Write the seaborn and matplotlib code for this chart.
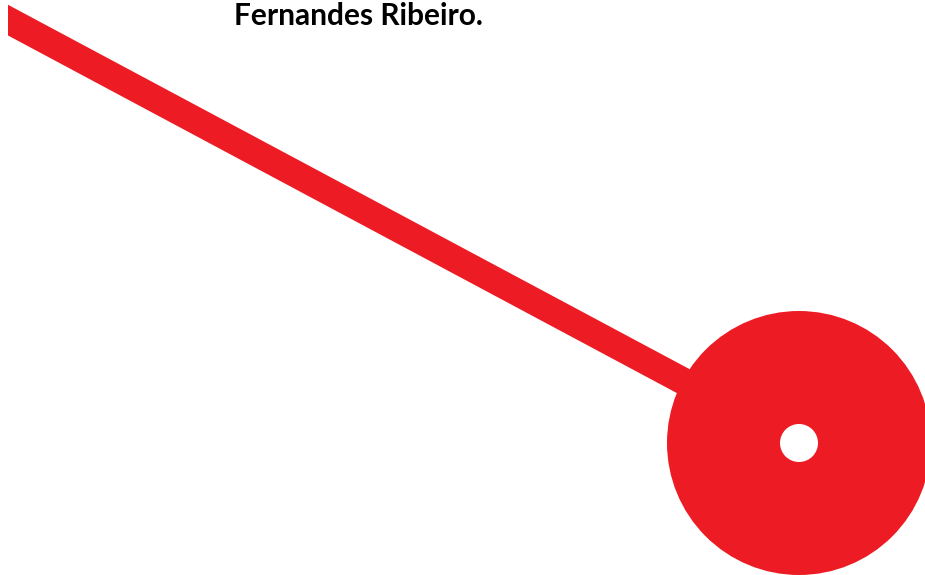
import matplotlib
matplotlib.use("Agg")
import matplotlib.pyplot as plt
import seaborn as sns
import pandas as pd
from matplotlib.patches import Circle, Rectangle

sns.set_theme(style="white")
plt.rcParams['font.family'] = ['Lato', 'DejaVu Sans']

# Data (pixel-like coordinate space of the picture)
needle_x = [-10, 799]
needle_y = [10.5, 443]
hub_center = (799, 443)
hub_radius = 132
hole_radius = 19
title_text = "Fernandes Ribeiro."
red = "#ED1C24"

fig = plt.figure(figsize=(9.25, 5.75), dpi=100)
ax = fig.add_axes([0, 0, 1, 1])
ax.set_xlim(0, 925)
ax.set_ylim(575, 0)
ax.set_aspect("equal")
ax.axis("off")

df = pd.DataFrame({"x": needle_x, "y": needle_y})
sns.lineplot(data=df, x="x", y="y", ax=ax, color=red, linewidth=19.5,
             sort=False, estimator=None)
ln = ax.lines[-1]
ln.set_solid_capstyle("butt")
clip = Rectangle((8, 0), 917, 575, transform=ax.transData)
ln.set_clip_path(clip)

ax.add_patch(Circle(hub_center, hub_radius, color=red, zorder=3, lw=0))
ax.add_patch(Circle(hub_center, hole_radius, color="white", zorder=4, lw=0))

ax.text(234, 16, title_text, fontsize=21.5, fontweight="bold", color="black",
        ha="left", va="center")

fig.savefig("out.png", dpi=100)
